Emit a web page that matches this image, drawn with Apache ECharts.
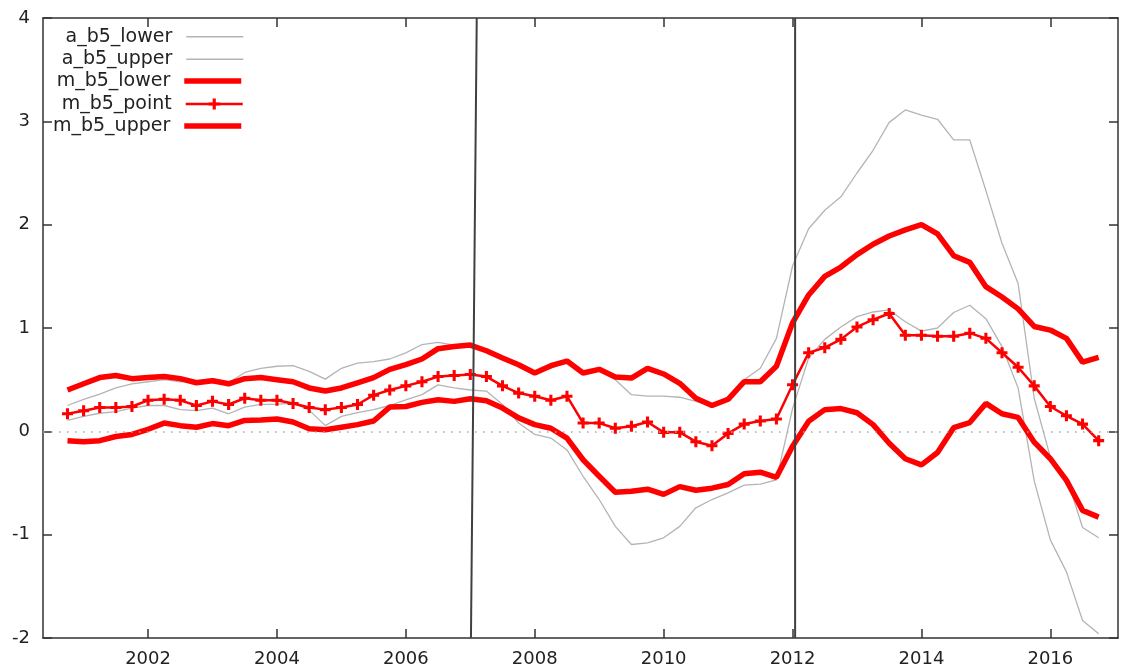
<!DOCTYPE html>
<html>
<head>
<meta charset="utf-8">
<script src="https://cdn.jsdelivr.net/npm/echarts@6/dist/echarts.min.js"></script>
<style>html,body{margin:0;padding:0;background:#fff}#c{width:1124px;height:672px}</style>
</head>
<body>
<div id="c"></div>
<script>
// quarterly observation dates (decimal years)
const dates = [
  2000.75,
  2001.00, 2001.25, 2001.50, 2001.75,
  2002.00, 2002.25, 2002.50, 2002.75,
  2003.00, 2003.25, 2003.50, 2003.75,
  2004.00, 2004.25, 2004.50, 2004.75,
  2005.00, 2005.25, 2005.50, 2005.75,
  2006.00, 2006.25, 2006.50, 2006.75,
  2007.00, 2007.25, 2007.50, 2007.75,
  2008.00, 2008.25, 2008.50, 2008.75,
  2009.00, 2009.25, 2009.50, 2009.75,
  2010.00, 2010.25, 2010.50, 2010.75,
  2011.00, 2011.25, 2011.50, 2011.75,
  2012.00, 2012.25, 2012.50, 2012.75,
  2013.00, 2013.25, 2013.50, 2013.75,
  2014.00, 2014.25, 2014.50, 2014.75,
  2015.00, 2015.25, 2015.50, 2015.75,
  2016.00, 2016.25, 2016.50, 2016.75
];

const aLower = [
  0.105, 0.145, 0.175, 0.19, 0.225, 0.25, 0.25, 0.21, 0.20, 0.225,
  0.17, 0.235, 0.26, 0.26, 0.275, 0.205, 0.055, 0.145, 0.18, 0.21,
  0.25, 0.305, 0.355, 0.45, 0.42, 0.40, 0.39, 0.26, 0.08, -0.03,
  -0.065, -0.18, -0.435, -0.66, -0.92, -1.095, -1.08, -1.03, -0.92, -0.74,
  -0.66, -0.595, -0.52, -0.51, -0.47, 0.22, 0.71, 0.89, 1.01, 1.11,
  1.155, 1.175, 1.06, 0.97, 1.0, 1.15, 1.22, 1.09, 0.82, 0.42,
  -0.48, -1.05, -1.36, -1.83, -1.96
];

const aUpper = [
  0.25, 0.31, 0.36, 0.42, 0.46, 0.48, 0.50, 0.48, 0.49, 0.51,
  0.47, 0.57, 0.61, 0.63, 0.635, 0.58, 0.505, 0.61, 0.66, 0.675,
  0.70, 0.76, 0.84, 0.86, 0.835, 0.83, 0.79, 0.72, 0.63, 0.565,
  0.61, 0.68, 0.58, 0.595, 0.50, 0.355, 0.34, 0.34, 0.33, 0.29,
  0.245, 0.305, 0.50, 0.61, 0.90, 1.60, 1.96, 2.14, 2.27, 2.50,
  2.72, 2.99, 3.11, 3.06, 3.02, 2.82, 2.82, 2.33, 1.82, 1.43,
  0.32, -0.25, -0.44, -0.93, -1.03
];

const mLower = [
  -0.09, -0.10, -0.09, -0.05, -0.03, 0.02, 0.08, 0.055, 0.04, 0.075,
  0.055, 0.105, 0.11, 0.12, 0.09, 0.025, 0.015, 0.04, 0.065, 0.10,
  0.235, 0.24, 0.28, 0.305, 0.29, 0.315, 0.295, 0.225, 0.13, 0.065,
  0.03, -0.065, -0.275, -0.435, -0.59, -0.58, -0.56, -0.61, -0.535, -0.57,
  -0.55, -0.515, -0.41, -0.395, -0.445, -0.145, 0.097, 0.21, 0.22, 0.18,
  0.065, -0.115, -0.265, -0.325, -0.205, 0.035, 0.085, 0.27, 0.17, 0.135,
  -0.105, -0.265, -0.475, -0.765, -0.83
];

const mPoint = [
  0.17, 0.20, 0.23, 0.23, 0.24, 0.30, 0.31, 0.30, 0.25, 0.29,
  0.26, 0.32, 0.30, 0.30, 0.27, 0.23, 0.21, 0.23, 0.26, 0.35,
  0.40, 0.44, 0.48, 0.53, 0.54, 0.55, 0.53, 0.44, 0.37, 0.34,
  0.30, 0.34, 0.08, 0.08, 0.03, 0.05, 0.09, -0.01, -0.01, -0.10,
  -0.14, -0.02, 0.07, 0.10, 0.12, 0.45, 0.76, 0.81, 0.89, 1.01,
  1.08, 1.14, 0.93, 0.93, 0.92, 0.92, 0.95, 0.90, 0.76, 0.62,
  0.44, 0.24, 0.15, 0.07, -0.09
];

const mUpper = [
  0.40, 0.46, 0.52, 0.54, 0.51, 0.52, 0.53, 0.51, 0.47, 0.49,
  0.46, 0.51, 0.52, 0.50, 0.48, 0.42, 0.39, 0.42, 0.47, 0.52,
  0.60, 0.645, 0.70, 0.80, 0.82, 0.835, 0.78, 0.71, 0.645, 0.565,
  0.635, 0.68, 0.565, 0.60, 0.525, 0.515, 0.61, 0.555, 0.465, 0.32,
  0.25, 0.31, 0.48, 0.48, 0.63, 1.05, 1.32, 1.50, 1.59, 1.71,
  1.81, 1.89, 1.95, 2.00, 1.91, 1.70, 1.635, 1.40, 1.30, 1.185,
  1.015, 0.98, 0.90, 0.67, 0.715
];

// vertical marker lines (x at top, x at bottom)
const vline1 = [[2007.10, 4], [2007.01, -2]];
const vline2 = [[2012.04, 4], [2012.04, -2]];

const xTicks = [2002, 2004, 2006, 2008, 2010, 2012, 2014, 2016];
const yMin = -2, yMax = 4, yStep = 1;
const xMin = 2000.37, xMax = 2017.05;

const names = ['a_b5_lower', 'a_b5_upper', 'm_b5_lower', 'm_b5_point', 'm_b5_upper'];

const FONT = 'DejaVu Sans';
const AX = '#333';
const GREY = '#b4b4b4';
const RED = '#ff0000';
const pair = v => dates.map((d, i) => [d, v[i]]);
const plus = 'path://M3.6,0H6.4V3.6H10V6.4H6.4V10H3.6V6.4H0V3.6H3.6Z';

const legendCenters = [36.7, 59.3, 81, 104, 126];
const legendLine = [
  { color: GREY, width: 1.5 }, { color: GREY, width: 1.5 },
  { color: RED, width: 5.5 }, { color: RED, width: 2.5 }, { color: RED, width: 5.5 }
];
const legends = names.map((n, i) => ({
  data: [n], orient: 'vertical', align: 'right', right: 880, top: legendCenters[i] - 11,
  itemWidth: 57, itemHeight: 14, padding: 0, selectedMode: false,
  lineStyle: legendLine[i],
  itemStyle: n === 'm_b5_point' ? { color: RED } : { opacity: 0 },
  textStyle: { fontFamily: FONT, fontSize: 19, color: '#222', lineHeight: 22, padding: [0, 9, 0, 0] }
}));

const chart = echarts.init(document.getElementById('c'), null, { renderer: 'canvas' });
chart.setOption({
  animation: false,
  backgroundColor: '#fff',
  grid: { left: 43, right: 6, top: 18, bottom: 34 },
  legend: legends,
  xAxis: [
    {
      type: 'value', min: xMin, max: xMax, position: 'bottom',
      axisLine: { show: true, onZero: false, lineStyle: { color: AX, width: 1.5 } },
      axisTick: { show: true, inside: true, length: 9, customValues: xTicks, lineStyle: { color: AX, width: 1.5 } },
      axisLabel: { show: true, customValues: xTicks, margin: 12, fontFamily: FONT, fontSize: 18, color: '#222',
                   formatter: v => String(Math.round(v)) },
      splitLine: { show: false }
    },
    {
      type: 'value', min: xMin, max: xMax, position: 'top',
      axisLine: { show: true, onZero: false, lineStyle: { color: AX, width: 1.5 } },
      axisTick: { show: true, inside: true, length: 9, customValues: xTicks, lineStyle: { color: AX, width: 1.5 } },
      axisLabel: { show: false, customValues: xTicks },
      splitLine: { show: false }
    }
  ],
  yAxis: [
    {
      type: 'value', min: yMin, max: yMax, interval: yStep, position: 'left',
      axisLine: { show: true, onZero: false, lineStyle: { color: AX, width: 1.5 } },
      axisTick: { show: true, inside: true, length: 9, lineStyle: { color: AX, width: 1.5 } },
      axisLabel: { show: true, margin: 13, fontFamily: FONT, fontSize: 18, color: '#222' },
      splitLine: { show: false }
    },
    {
      type: 'value', min: yMin, max: yMax, interval: yStep, position: 'right',
      axisLine: { show: true, onZero: false, lineStyle: { color: AX, width: 1.5 } },
      axisTick: { show: true, inside: true, length: 9, lineStyle: { color: AX, width: 1.5 } },
      axisLabel: { show: false },
      splitLine: { show: false }
    }
  ],
  series: [
    {
      name: 'a_b5_lower', type: 'line', data: pair(aLower), symbol: 'none',
      lineStyle: { color: GREY, width: 1.3 }, itemStyle: { color: GREY }, z: 2,
      markLine: {
        silent: true, symbol: ['none', 'none'], label: { show: false },
        lineStyle: { color: '#aaa', width: 1.5, type: [1.5, 6.5] },
        data: [{ yAxis: 0 }]
      }
    },
    {
      name: 'a_b5_upper', type: 'line', data: pair(aUpper), symbol: 'none',
      lineStyle: { color: GREY, width: 1.3 }, itemStyle: { color: GREY }, z: 2
    },
    {
      name: 'm_b5_lower', type: 'line', data: pair(mLower), symbol: 'none',
      lineStyle: { color: RED, width: 5.5 }, itemStyle: { color: RED }, z: 3
    },
    {
      name: 'm_b5_point', type: 'line', data: pair(mPoint), symbol: plus, symbolSize: 11,
      showSymbol: true, showAllSymbol: true,
      lineStyle: { color: RED, width: 2.5 }, itemStyle: { color: RED }, z: 3
    },
    {
      name: 'm_b5_upper', type: 'line', data: pair(mUpper), symbol: 'none',
      lineStyle: { color: RED, width: 5.5 }, itemStyle: { color: RED }, z: 3
    },
    {
      name: 'vline1', type: 'line', data: vline1, symbol: 'none', silent: true,
      lineStyle: { color: '#404040', width: 2 }, z: 4
    },
    {
      name: 'vline2', type: 'line', data: vline2, symbol: 'none', silent: true,
      lineStyle: { color: '#404040', width: 2 }, z: 4
    }
  ]
});
</script>
</body>
</html>
